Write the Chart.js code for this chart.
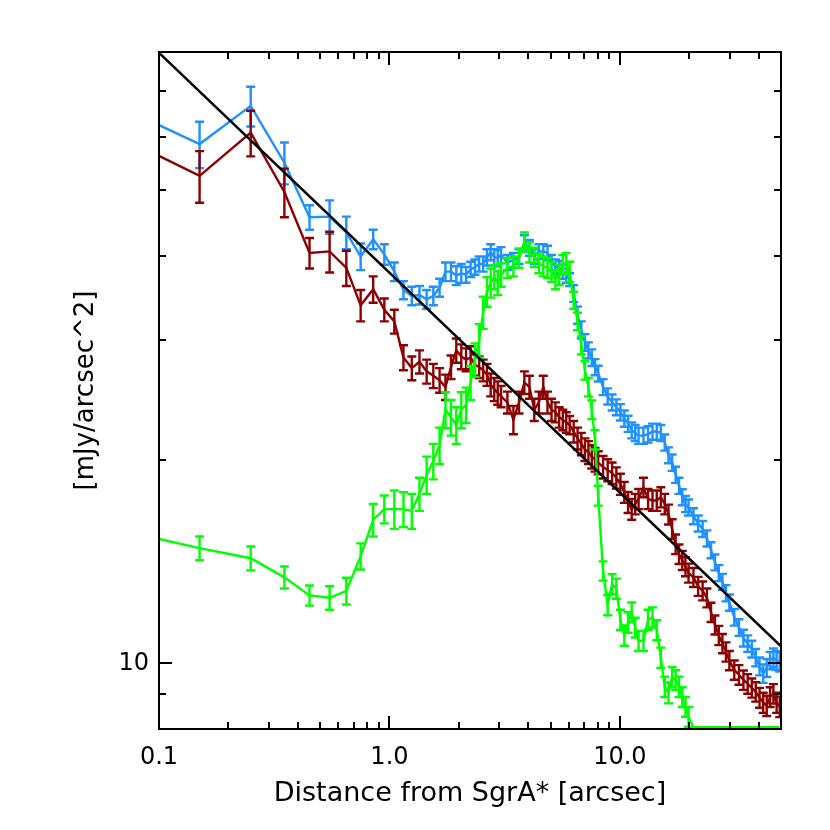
<!DOCTYPE html>
<html>
<head>
<meta charset="utf-8">
<script src="https://cdn.jsdelivr.net/npm/chart.js@4.4.0/dist/chart.umd.min.js"></script>
<style>
  body { margin: 0; background: #fff; }
  canvas { display: block; }
</style>
</head>
<body>
<canvas id="mycanvas" width="830" height="830"></canvas>
<script>
// radius from SgrA* [arcsec]
var radius = [
  0.05, 0.15, 0.25, 0.35, 0.45, 0.55, 0.65, 0.75, 0.85, 0.95,
  1.05, 1.15, 1.25, 1.35, 1.45, 1.55, 1.65, 1.75, 1.85, 1.95,
  2.05, 2.15, 2.25, 2.35, 2.45, 2.55, 2.65, 2.75, 2.85, 2.95,
  3.05, 3.25, 3.45, 3.65, 3.85, 4.05, 4.25, 4.45, 4.65, 4.85,
  5.05, 5.25, 5.45, 5.65, 5.85, 6.05, 6.3, 6.55, 6.8, 7.05,
  7.3, 7.55, 7.8, 8.05, 8.45, 8.85, 9.25, 9.65, 10.05, 10.45,
  10.85, 11.25, 11.65, 12.05, 12.65, 13.25, 13.85, 14.45, 15.05, 15.65,
  16.25, 16.85, 17.45, 18.05, 18.65, 19.25, 19.85, 20.85, 21.85, 22.85,
  23.85, 24.85, 25.85, 26.85, 27.85, 28.85, 29.85, 31.35, 32.85, 34.35,
  35.85, 37.35, 38.85, 40.35, 41.85, 43.35, 44.85, 46.35, 47.85, 49.35
];

// blue profile [mJy/arcsec^2]
var blueFlux = [
  69.6, 58.5, 66.6, 54.9, 45.6, 45.7, 43.3, 39.9, 42.3, 40.2,
  37.9, 35.6, 34.9, 35.0, 34.5, 34.9, 35.9, 37.9, 37.9, 37.4,
  37.7, 37.5, 38.2, 38.5, 38.9, 38.9, 39.8, 40.5, 39.8, 39.7,
  40.1, 39.1, 39.4, 39.9, 41.8, 41.1, 39.9, 40.6, 40.6, 40.4,
  39.1, 38.6, 38.4, 37.9, 37.4, 36.9, 35.2, 32.7, 31.1, 29.8,
  29.0, 28.3, 27.4, 26.8, 25.6, 24.8, 24.3, 23.9, 23.5, 23.0,
  22.6, 22.1, 21.9, 21.7, 21.7, 21.8, 22.0, 22.0, 21.9, 21.2,
  20.3, 19.8, 19.0, 18.3, 17.6, 17.2, 17.0, 16.5, 16.1, 15.8,
  15.3, 14.7, 14.1, 13.6, 13.2, 12.7, 12.3, 11.7, 11.3, 10.9,
  10.7, 10.5, 10.2, 9.9, 9.66, 9.85, 10.1, 10.2, 10.1, 10.05
];
var blueErr = [
  4.5, 4.6, 4.5, 3.9, 1.9, 2.6, 2.4, 1.8, 1.4, 1.4,
  1.2, 1.1, 1.1, 1.1, 1.1, 1.1, 1.1, 1.2, 1.2, 1.2,
  1.2, 1.0, 1.0, 1.0, 1.0, 1.0, 1.1, 1.1, 1.1, 1.1,
  1.1, 1.0, 1.0, 1.0, 1.1, 1.1, 1.0, 1.0, 1.0, 1.0,
  1.0, 0.9, 0.9, 0.9, 0.9, 0.8, 1.0, 0.95, 0.9, 0.85,
  0.8, 0.8, 0.75, 0.72, 0.7, 0.68, 0.66, 0.65, 0.65, 0.64,
  0.62, 0.6, 0.6, 0.6, 0.6, 0.6, 0.6, 0.6, 0.6, 0.58,
  0.55, 0.55, 0.52, 0.5, 0.48, 0.47, 0.46, 0.45, 0.44, 0.43,
  0.42, 0.4, 0.38, 0.37, 0.36, 0.35, 0.34, 0.33, 0.32, 0.31,
  0.3, 0.3, 0.3, 0.3, 0.3, 0.3, 0.3, 0.32, 0.32, 0.32
];

// dark red profile
var redFlux = [
  63.1, 52.5, 60.8, 49.7, 40.4, 40.6, 38.4, 33.8, 35.7, 33.3,
  32.0, 28.3, 27.3, 27.9, 27.0, 26.6, 26.2, 25.6, 27.4, 29.0,
  28.4, 28.1, 28.3, 27.6, 27.4, 27.1, 26.7, 25.8, 25.4, 25.1,
  24.8, 24.3, 22.9, 24.3, 26.0, 25.6, 23.7, 24.3, 25.6, 24.3,
  23.7, 23.5, 23.1, 22.9, 22.7, 22.5, 22.0, 21.5, 21.1, 20.7,
  20.5, 20.2, 20.0, 19.8, 19.5, 19.3, 19.1, 18.8, 18.4, 17.9,
  17.3, 16.9, 17.2, 17.5, 18.2, 17.5, 17.4, 17.4, 17.6, 17.2,
  16.6, 15.8, 15.0, 14.5, 14.2, 13.9, 13.6, 13.4, 13.0, 12.8,
  12.5, 11.9, 11.4, 11.0, 10.7, 10.4, 10.1, 9.78, 9.62, 9.45,
  9.33, 9.20, 9.08, 8.90, 8.75, 8.66, 8.92, 9.02, 8.75, 8.63
];
var redErr = [
  5.0, 4.6, 4.7, 4.1, 2.1, 2.8, 2.3, 1.8, 1.6, 1.3,
  1.3, 1.2, 1.1, 1.1, 1.1, 1.1, 1.1, 1.1, 1.1, 1.2,
  1.2, 1.1, 1.1, 1.0, 1.0, 1.0, 1.0, 1.0, 1.0, 1.0,
  0.9, 0.9, 1.1, 0.9, 1.0, 1.0, 0.9, 0.9, 1.0, 0.9,
  0.9, 0.8, 0.8, 0.8, 0.8, 0.7, 0.8, 0.8, 0.8, 0.8,
  0.8, 0.8, 0.8, 0.78, 0.75, 0.72, 0.7, 0.68, 0.66, 0.64,
  0.62, 0.6, 0.6, 0.6, 0.6, 0.6, 0.6, 0.6, 0.6, 0.6,
  0.56, 0.53, 0.5, 0.48, 0.46, 0.45, 0.44, 0.43, 0.42, 0.41,
  0.4, 0.39, 0.37, 0.36, 0.35, 0.34, 0.33, 0.32, 0.32, 0.31,
  0.31, 0.3, 0.3, 0.3, 0.3, 0.3, 0.3, 0.3, 0.3, 0.3
];

// green profile (sits on the bottom edge beyond ~20")
var greenFlux = [
  16.1, 14.8, 14.3, 13.4, 12.6, 12.5, 12.8, 14.4, 16.3, 16.9,
  16.9, 16.9, 16.8, 17.8, 19.0, 19.9, 21.0, 23.7, 23.1, 22.5,
  23.7, 24.1, 26.0, 28.1, 30.0, 33.0, 35.4, 36.5, 37.2, 36.5,
  37.5, 38.4, 38.6, 39.7, 41.9, 40.5, 39.8, 39.0, 38.6, 38.4,
  37.9, 36.9, 37.5, 38.8, 39.1, 37.9, 34.4, 32.0, 29.5, 27.1,
  25.6, 23.7, 21.4, 17.7, 13.7, 12.2, 13.1, 12.9, 11.6, 11.0,
  11.5, 11.9, 11.3, 10.8, 10.8, 11.6, 11.7, 11.2, 10.2, 9.24,
  9.05, 9.55, 9.45, 9.24, 8.92, 8.63, 8.34, 8.05, 8.05, 8.05,
  8.05, 8.05, 8.05, 8.05, 8.05, 8.05, 8.05, 8.05, 8.05, 8.05,
  8.05, 8.05, 8.05, 8.05, 8.05, 8.05, 8.05, 8.05, 8.05, 8.05
];
var greenErr = [
  0.6, 0.6, 0.58, 0.5, 0.43, 0.5, 0.58, 0.64, 0.9, 0.8,
  1.1, 1.0, 1.0, 1.0, 1.2, 1.2, 1.3, 1.45, 1.4, 1.4,
  1.45, 1.45, 1.5, 1.6, 1.7, 1.8, 1.8, 1.8, 1.5, 1.5,
  1.5, 1.3, 1.3, 1.3, 1.4, 1.4, 1.3, 1.3, 1.3, 1.3,
  1.3, 1.2, 1.3, 1.3, 1.3, 1.3, 1.0, 0.95, 0.9, 0.85,
  0.8, 0.75, 0.7, 0.6, 0.45, 0.42, 0.44, 0.44, 0.4, 0.38,
  0.4, 0.4, 0.38, 0.37, 0.37, 0.4, 0.4, 0.38, 0.35, 0.32,
  0.32, 0.33, 0.32, 0.32, 0.3, 0.29, 0.28, 0, 0, 0,
  0, 0, 0, 0, 0, 0, 0, 0, 0, 0,
  0, 0, 0, 0, 0, 0, 0, 0, 0, 0
];

// power law line, end points
var fitX = [0.1, 50];
var fitY = [79.8, 10.6];

var xTickValues = [0.1, 1, 10];
var xTickLabels = ["0.1", "1.0", "10.0"];
var yTickValues = [10];
var yTickLabels = ["10"];

function points(ys) {
  return radius.map(function(r, i) { return {x: r, y: ys[i]}; });
}

// error bars drawn right after each dataset so stacking stays the same
var errorBars = {
  id: 'errorBars',
  afterDatasetDraw: function(chart, args) {
    var ds = chart.data.datasets[args.index];
    if (!ds.errors) return;
    var ctx = chart.ctx, a = chart.chartArea;
    var xs = chart.scales.x, ys = chart.scales.y;
    ctx.save();
    ctx.beginPath();
    ctx.rect(a.left, a.top, a.right - a.left, a.bottom - a.top);
    ctx.clip();
    ctx.strokeStyle = ds.borderColor;
    ctx.lineWidth = 2.4;
    ctx.beginPath();
    ds.data.forEach(function(p, i) {
      var e = ds.errors[i];
      if (!e) return;
      var px = xs.getPixelForValue(p.x);
      var top = ys.getPixelForValue(p.y + e);
      var bot = ys.getPixelForValue(p.y - e);
      ctx.moveTo(px, top); ctx.lineTo(px, bot);
      ctx.moveTo(px - 4.5, top); ctx.lineTo(px + 4.5, top);
      ctx.moveTo(px - 4.5, bot); ctx.lineTo(px + 4.5, bot);
    });
    ctx.stroke();
    ctx.restore();
  }
};

// box with inward ticks on all four sides
var frame = {
  id: 'frame',
  afterDraw: function(chart) {
    var ctx = chart.ctx, a = chart.chartArea;
    var xs = chart.scales.x, ys = chart.scales.y;
    ctx.save();
    ctx.strokeStyle = '#000';
    ctx.lineWidth = 2;
    ctx.strokeRect(a.left, a.top, a.right - a.left, a.bottom - a.top);
    ctx.beginPath();
    var d, k, v, p, len;
    for (d = 0.1; d < 100; d *= 10) {
      for (k = 1; k <= 9; k++) {
        v = d * k;
        if (v < xs.min || v > xs.max) continue;
        p = Math.round(xs.getPixelForValue(v));
        len = k === 1 ? 13 : 7;
        ctx.moveTo(p, a.bottom); ctx.lineTo(p, a.bottom - len);
        ctx.moveTo(p, a.top); ctx.lineTo(p, a.top + len);
      }
    }
    for (d = 1; d < 100; d *= 10) {
      for (k = 1; k <= 9; k++) {
        v = d * k;
        if (v < ys.min || v > ys.max) continue;
        p = Math.round(ys.getPixelForValue(v));
        len = k === 1 ? 13 : 7;
        ctx.moveTo(a.left, p); ctx.lineTo(a.left + len, p);
        ctx.moveTo(a.right, p); ctx.lineTo(a.right - len, p);
      }
    }
    ctx.stroke();
    ctx.restore();
  }
};

var font = 'DejaVu Sans';

var chartdata = {
  datasets: [
    {
      label: 'fit',
      data: fitX.map(function(x, i) { return {x: x, y: fitY[i]}; }),
      borderColor: '#000000',
      borderWidth: 2.4
    },
    {
      label: 'green',
      data: points(greenFlux),
      errors: greenErr,
      borderColor: '#00ff00',
      borderWidth: 2.4
    },
    {
      label: 'red',
      data: points(redFlux),
      errors: redErr,
      borderColor: '#8b0000',
      borderWidth: 2.4
    },
    {
      label: 'blue',
      data: points(blueFlux),
      errors: blueErr,
      borderColor: '#1e90ff',
      borderWidth: 2.4
    }
  ]
};

var ctx = document.getElementById('mycanvas');

var LineGraph = new Chart(ctx, {
  type: 'line',
  data: chartdata,
  plugins: [errorBars, frame],
  options: {
    responsive: false,
    animation: false,
    devicePixelRatio: 1,
    layout: { padding: { left: 0, top: 52, right: 49, bottom: 0 } },
    plugins: { legend: { display: false }, tooltip: { enabled: false } },
    elements: {
      point: { radius: 0 },
      line: { tension: 0, fill: false }
    },
    scales: {
      x: {
        type: 'logarithmic',
        min: 0.1,
        max: 50,
        grid: { display: false, drawTicks: false },
        border: { display: false },
        afterBuildTicks: function(s) {
          s.ticks = xTickValues.map(function(v) { return {value: v}; });
        },
        afterFit: function(s) { s.height = 101; },
        ticks: {
          autoSkip: false,
          maxRotation: 0,
          padding: 14,
          color: '#000',
          font: { family: font, size: 24 },
          callback: function(v) { return xTickLabels[xTickValues.indexOf(v)]; }
        },
        title: {
          display: true,
          text: 'Distance from SgrA* [arcsec]',
          color: '#000',
          font: { family: font, size: 27 },
          padding: { top: 0, bottom: 20 }
        }
      },
      y: {
        type: 'logarithmic',
        min: 8,
        max: 80,
        grid: { display: false, drawTicks: false },
        border: { display: false },
        afterBuildTicks: function(s) {
          s.ticks = yTickValues.map(function(v) { return {value: v}; });
        },
        afterFit: function(s) { s.width = 159; },
        ticks: {
          autoSkip: false,
          padding: 10,
          color: '#000',
          font: { family: font, size: 24 },
          callback: function(v) { return yTickLabels[yTickValues.indexOf(v)]; }
        },
        title: {
          display: true,
          text: '[mJy/arcsec^2]',
          color: '#000',
          font: { family: font, size: 26 },
          padding: { top: 71, bottom: 0 }
        }
      }
    }
  }
});
</script>
</body>
</html>
